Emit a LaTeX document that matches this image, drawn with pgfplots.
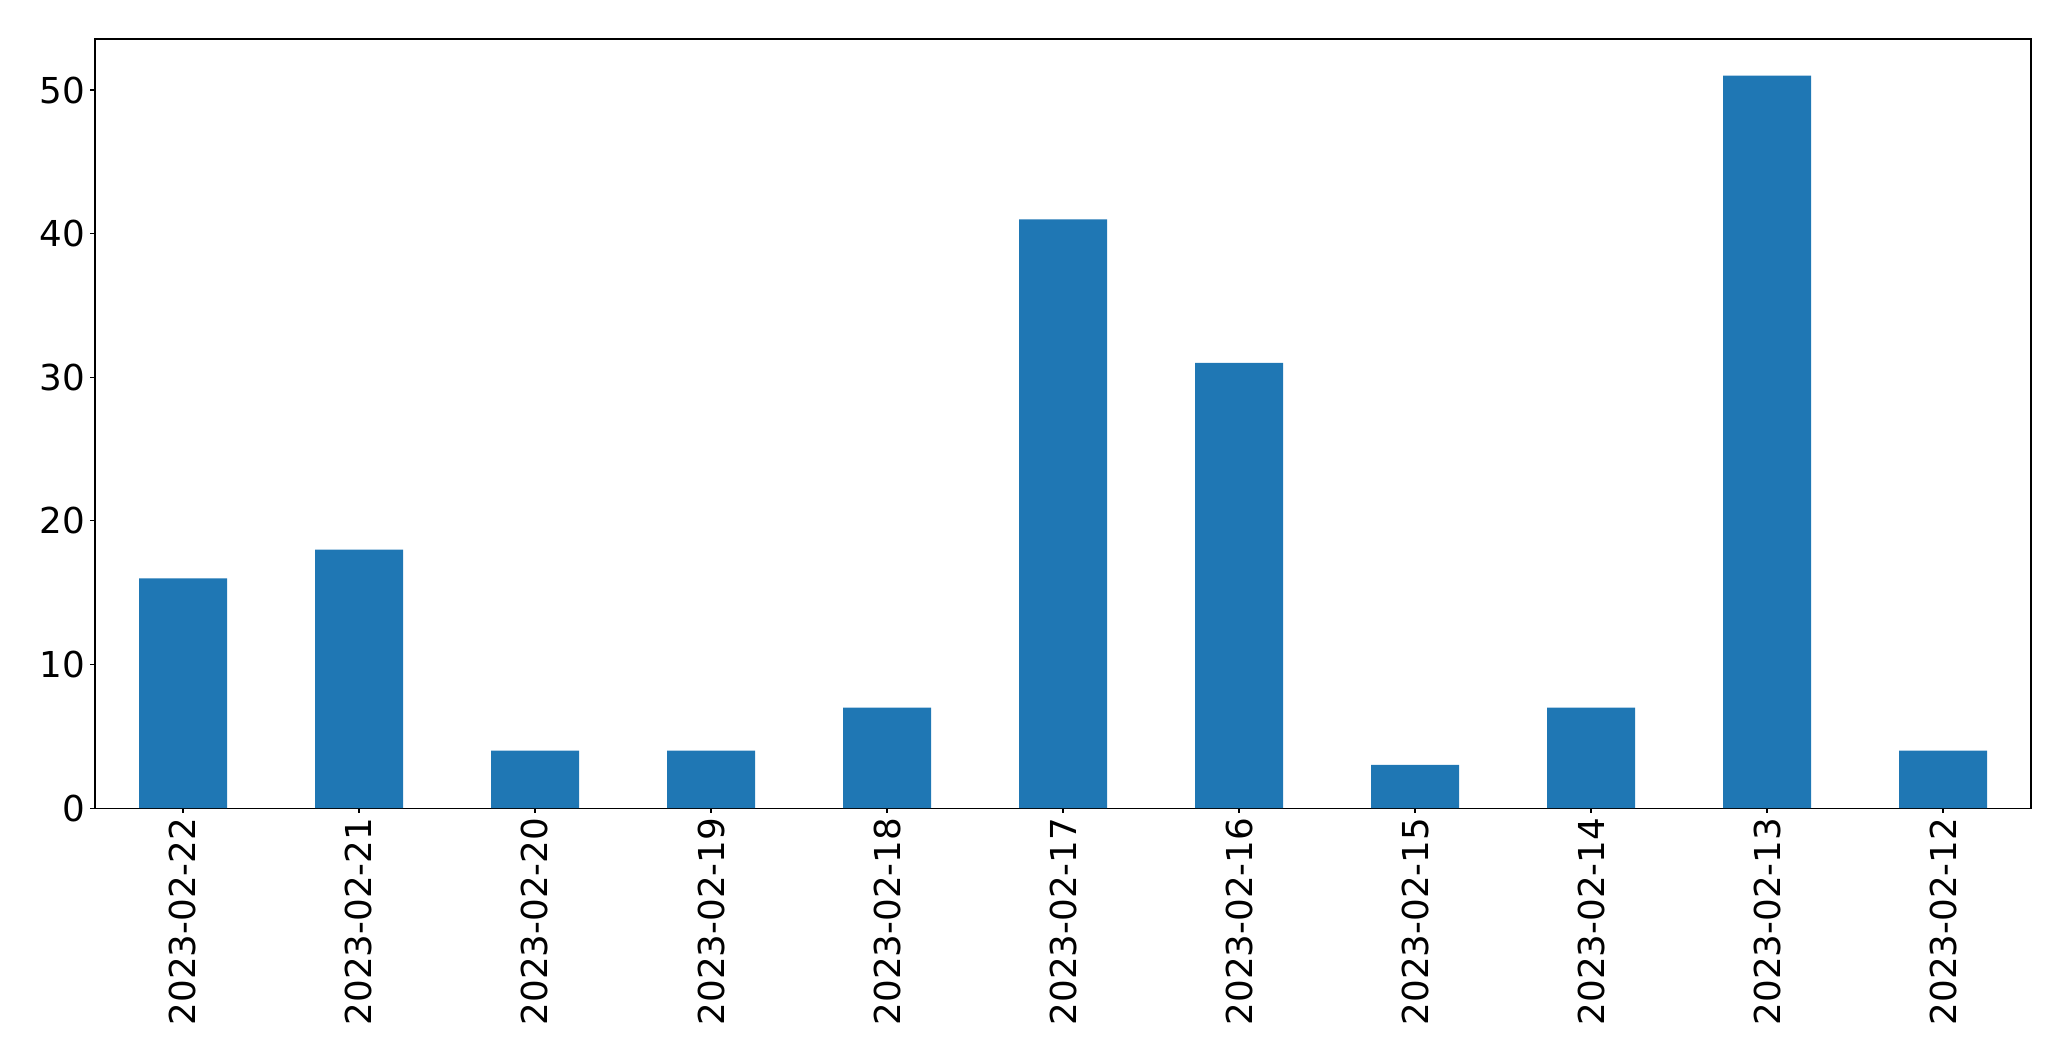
\documentclass[border=0pt]{standalone}
\usepackage{fontspec}
\setmainfont{DejaVu Sans}
\usepackage{pgfplots}
\pgfplotsset{compat=1.18}
\definecolor{barblue}{HTML}{1F77B4}

\begin{document}
\begin{tikzpicture}
\begin{axis}[
    name=ax,
    scale only axis,
    width=1393.9pt, height=553.7pt,
    xmin=-0.5, xmax=10.5,
    ymin=0, ymax=53.55,
    xtick={0,...,10},
    xticklabels={2023-02-22,2023-02-21,2023-02-20,2023-02-19,2023-02-18,2023-02-17,2023-02-16,2023-02-15,2023-02-14,2023-02-13,2023-02-12},
    ytick={0,10,20,30,40,50},
    x tick label style={rotate=90, anchor=east},
    tick label style={font=\fontsize{25.7}{30}\selectfont},
    /pgf/number format/assume math mode=true,
    tick align=outside,
    tickpos=left,
    major tick length=3.5pt,
    every tick/.style={black, line width=0.8pt},
    axis line style={line width=0.8pt},
    ybar,
    bar width=0.5,
    bar shift=0pt,
]
\addplot[fill=barblue, draw=none] coordinates {
    (0,16) (1,18) (2,4) (3,4) (4,7) (5,41) (6,31) (7,3) (8,7) (9,51) (10,4)
};
\end{axis}
\pgfresetboundingbox
\useasboundingbox ([shift={(-68.4pt,-181.4pt)}]ax.south west) rectangle ([shift={(28.8pt,28.1pt)}]ax.north east);
\end{tikzpicture}
\end{document}
